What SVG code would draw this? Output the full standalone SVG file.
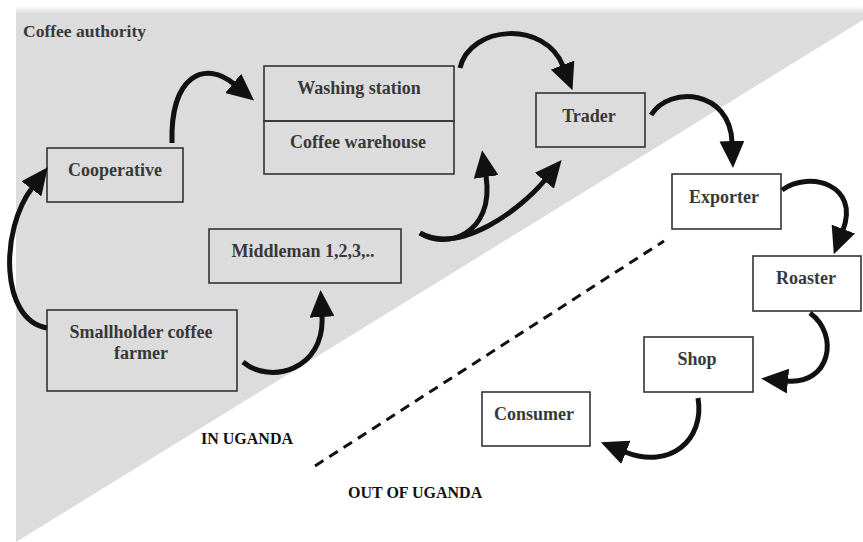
<svg xmlns="http://www.w3.org/2000/svg" width="863" height="542" viewBox="0 0 863 542">
<style>
.bx{fill:none;stroke:#333;stroke-width:1.6}
.t{font-family:"Liberation Serif","Times New Roman",serif;font-weight:bold;font-size:18px;fill:#383838;text-anchor:middle}
.lb{font-family:"Liberation Serif","Times New Roman",serif;font-weight:bold;font-size:16px;fill:#111}
.ar{fill:none;stroke:#111;stroke-width:5;stroke-linecap:butt}
</style>
<defs>
<linearGradient id="fade" x1="0" y1="0" x2="0" y2="1">
<stop offset="0" stop-color="#fff"/>
<stop offset="1" stop-color="#dcdcdc"/>
</linearGradient>
<marker id="ah" viewBox="0 0 27 25" refX="1" refY="12.5" markerWidth="27" markerHeight="25" markerUnits="userSpaceOnUse" orient="auto">
<path d="M0,0 L27,12.5 L0,25 Z" fill="#111"/>
</marker>
</defs>
<rect width="863" height="542" fill="#fff"/>
<polygon points="16,12 863,12 863,20 16,542" fill="#dcdcdc"/>
<rect x="16" y="6" width="847" height="8" fill="url(#fade)"/>
<text x="23" y="37" style="font-family:'Liberation Serif','Times New Roman',serif;font-weight:bold;font-size:17.5px;fill:#383838">Coffee authority</text>
<g id="cooperative"><rect class="bx" x="47" y="148" width="136" height="54"/><text class="t" x="115" y="176">Cooperative</text></g>
<g id="washing-station"><rect class="bx" x="264" y="66" width="190" height="55"/><text class="t" x="359" y="94">Washing station</text></g>
<g id="coffee-warehouse"><rect class="bx" x="264" y="121" width="190" height="53"/><text class="t" x="358" y="148">Coffee warehouse</text></g>
<g id="trader"><rect class="bx" x="536" y="93" width="109" height="54"/><text class="t" x="589" y="122">Trader</text></g>
<g id="exporter"><rect class="bx" x="672" y="174" width="109" height="55" fill="#fff"/><text class="t" x="724" y="203">Exporter</text></g>
<g id="roaster"><rect class="bx" x="753" y="256" width="108" height="55"/><text class="t" x="806" y="284">Roaster</text></g>
<g id="shop"><rect class="bx" x="644" y="337" width="109" height="55"/><text class="t" x="697" y="365">Shop</text></g>
<g id="consumer"><rect class="bx" x="482" y="392" width="108" height="54"/><text class="t" x="534" y="420">Consumer</text></g>
<g id="middleman"><rect class="bx" x="209" y="229" width="192" height="54"/><text class="t" x="303" y="257">Middleman 1,2,3,..</text></g>
<g id="smallholder"><rect class="bx" x="47" y="310" width="190" height="81"/><text class="t" x="141" y="338">Smallholder coffee</text><text class="t" x="141" y="359">farmer</text></g>
<text class="lb" x="201" y="444">IN UGANDA</text>
<text class="lb" x="348" y="498">OUT OF UGANDA</text>
<g id="connectors">
<line x1="315" y1="466" x2="664" y2="241" stroke="#111" stroke-width="3" stroke-dasharray="10,7"/>
<path class="ar" marker-end="url(#ah)" d="M47,328 C0,320 0,230 32,188"/>
<path class="ar" marker-end="url(#ah)" d="M172,143 C170,75 205,60 234,84"/>
<path class="ar" marker-end="url(#ah)" d="M460,68 C470,25 545,20 563,66"/>
<path class="ar" marker-end="url(#ah)" d="M651,115 C670,85 730,90 732,142"/>
<path class="ar" marker-end="url(#ah)" d="M782,190 C810,170 860,185 843,230"/>
<path class="ar" marker-end="url(#ah)" d="M810,313 C840,335 830,385 787,381"/>
<path class="ar" marker-end="url(#ah)" d="M698,398 C705,440 670,470 625,452"/>
<path class="ar" marker-end="url(#ah)" d="M243,362 C270,385 325,370 322,316"/>
<path class="ar" marker-end="url(#ah)" d="M420,233 C445,250 495,235 486,176"/>
<path class="ar" marker-end="url(#ah)" d="M420,233 C460,255 520,210 545,180"/>
</g>
</svg>
